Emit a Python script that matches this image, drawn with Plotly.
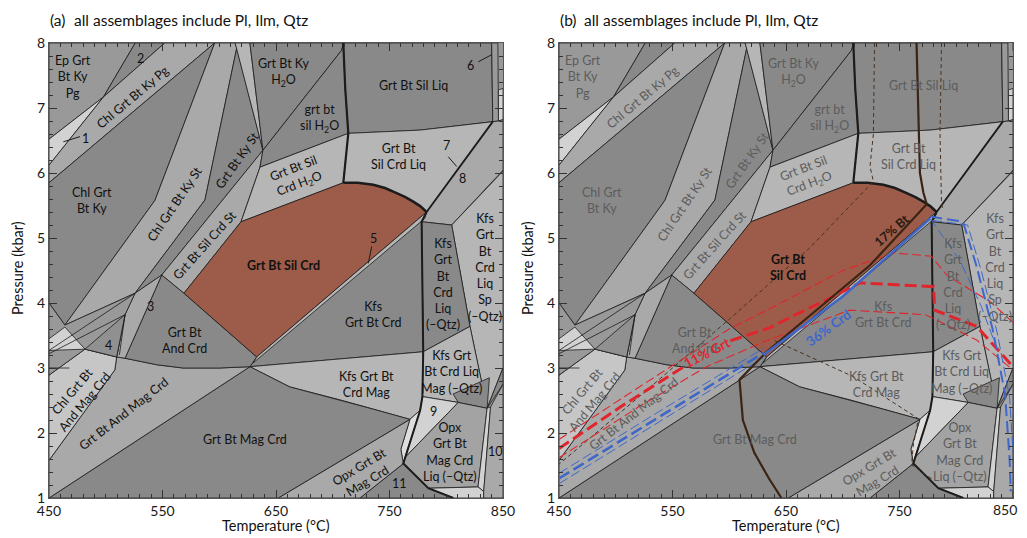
import plotly.graph_objects as go

# ---------------- field polygons: vertices as (T [degC], P [kbar]) ----------------
ep_grt_bt_ky_pg = [(450, 8.0), (526, 8.0), (498, 7.17), (450, 6.52)]
field_2 = [(526, 8.0), (552, 8.0), (498, 7.17)]
field_1 = [(450, 6.52), (498, 7.17), (450, 6.12)]
chl_grt_bt_ky_pg = [(450, 6.12), (498, 7.17), (552, 8.0), (596, 8.0), (450, 5.85)]
chl_grt_bt_ky = [(450, 5.85), (596, 8.0), (543.4, 5.58), (464, 3.66), (450, 4.0)]
chl_grt_bt_ky_st = [(596, 8.0), (614, 8.0), (615.4, 7.92), (587.4, 5.585), (525.8, 4.15), (464, 3.66), (543.4, 5.58)]
grt_bt_ky_st = [(615.4, 7.92), (638.5, 6.35), (549.3, 4.43), (525.8, 4.15), (587.4, 5.585)]
ky_sliver = [(614, 8.0), (627, 8.0), (638.5, 6.35), (615.4, 7.92)]
grt_bt_sil_crd_st = [(549.3, 4.43), (638.5, 6.35), (635.9, 6.09), (619.2, 5.25), (568.9, 4.15)]
grt_bt_ky_h2o = [(627, 8.0), (709.3, 8.0), (707.9, 7.89), (638.5, 6.35)]
grt_bt_sil_h2o = [(638.5, 6.35), (707.9, 7.89), (709.3, 8.0), (711, 7.3), (713.7, 6.61), (635.9, 6.09)]
grt_bt_sil_crd_h2o = [(635.9, 6.09), (713.7, 6.61), (709.3, 5.85), (619.2, 5.25)]
grt_bt_sil_crd = [(568.9, 4.15), (619.2, 5.25), (709.3, 5.85), (722, 5.85), (735.7, 5.82), (746, 5.77),
                  (756.3, 5.69), (764, 5.63), (770.9, 5.56), (777, 5.49), (782.7, 5.40), (633, 3.17)]
field_5 = [(633, 3.17), (782.7, 5.40), (781, 5.30), (630, 3.08)]
grt_bt_sil_liq = [(709.3, 8.0), (840, 8.0), (841, 6.79), (777, 6.66), (713.7, 6.61), (711, 7.3)]
field_6 = [(840, 8.0), (845.5, 8.0), (846, 6.8), (841, 6.79)]
far_right_light = [(846, 7.28), (850, 7.3), (850, 6.82), (846, 6.8)]
grt_bt_sil_crd_liq = [(713.7, 6.61), (777, 6.66), (841, 6.79), (782.7, 5.40), (777, 5.49), (770.9, 5.56),
                      (764, 5.63), (756.3, 5.69), (746, 5.77), (735.7, 5.82), (722, 5.85), (709.3, 5.85)]
field_8 = [(782.7, 5.40), (841, 6.79), (846, 6.8), (850, 6.82), (850, 6.05), (848.8, 6.02), (804.8, 5.2), (778.3, 5.25)]
kfs_liq_sp = [(804.8, 5.2), (848.8, 6.02), (850, 6.03), (850, 3.0), (836, 2.38), (820.9, 3.64)]
kfs_liq = [(778.3, 5.25), (804.8, 5.2), (820.9, 3.64), (779.7, 3.25)]
kfs_grt_bt_crd = [(627, 3.02), (633, 3.17), (782.7, 5.40), (778.3, 5.25), (779.7, 3.25)]
kfs_grt_bt_crd_mag = [(627, 3.02), (779.7, 3.25), (779, 2.56), (777, 2.35), (768, 2.21), (735, 2.37), (706.4, 2.51), (662, 2.71)]
kfs_liq_mag = [(779.7, 3.25), (820.9, 3.64), (836, 2.38), (810.6, 2.47), (779, 2.56)]
liq_mag_dark = [(806, 2.6), (838, 2.85), (836, 2.38), (810.6, 2.47)]
right_dark_tri = [(850, 3.0), (836, 2.38), (850, 2.75)]
field_9 = [(779, 2.56), (810.6, 2.47), (763.5, 1.62), (777, 2.35)]
sliver_9 = [(768, 2.21), (777, 2.35), (763.5, 1.62), (762.2, 1.53), (760, 1.75)]
opx_liq = [(810.6, 2.47), (836, 2.38), (828, 1.17), (784.2, 1.15), (762.2, 1.53), (763.5, 1.62)]
opx_right_sliver = [(836, 2.38), (839, 2.4), (833, 1.1), (828, 1.17)]
bottom_light = [(784.2, 1.15), (828, 1.17), (833, 1.1), (833, 1.0), (806.2, 1.0)]
field_10 = [(839, 2.4), (850, 2.75), (850, 1.0), (833, 1.0), (833, 1.1)]
field_11 = [(724, 1.0), (762.2, 1.53), (784.2, 1.15), (806.2, 1.0)]
opx_grt_bt_mag_crd = [(652, 1.0), (768, 2.21), (760, 1.75), (762.2, 1.53), (724, 1.0)]
grt_bt_mag_crd = [(450, 1.0), (627, 3.02), (662, 2.71), (706.4, 2.51), (735, 2.37), (768, 2.21), (652, 1.0)]
grt_bt_and_mag_crd = [(450, 1.58), (508, 2.97), (509.6, 3.17), (517, 3.15), (545, 3.05), (568, 3.0),
                      (600, 3.0), (627, 3.02), (450, 1.0)]
chl_grt_bt_and_mag_crd = [(450, 2.89), (481.7, 3.29), (509.6, 3.17), (508, 2.97), (450, 1.58)]
grt_bt_and_crd = [(549.3, 4.43), (568.9, 4.15), (633, 3.17), (627, 3.02), (600, 3.0), (568, 3.0), (545, 3.05), (517, 3.15)]
field_3 = [(525.8, 4.15), (549.3, 4.43), (517, 3.15), (509.6, 3.17), (517, 3.82)]
field_4_area = [(450, 4.0), (464, 3.66), (525.8, 4.15), (517, 3.82), (509.6, 3.17), (481.7, 3.29), (450, 2.89)]
left_light = [(450, 3.45), (464, 3.63), (481.7, 3.29), (450, 3.27)]
field_4_dark = [(481.7, 3.29), (517, 3.82), (509.6, 3.17)]

# extra thin boundaries
thin_a = [(450, 3.27), (525.8, 4.15)]
thin_b = [(450, 3.22), (517, 3.82)]
thin_c = [(517, 3.82), (512, 3.2)]
thin_d = [(450, 3.0), (468, 3.0)]

# heavy boundaries
heavy_1 = [(709.3, 8.0), (711, 7.3), (713.7, 6.61), (709.3, 5.85)]
heavy_arc = [(709.3, 5.85), (722, 5.85), (735.7, 5.82), (746, 5.77), (756.3, 5.69), (764, 5.63),
             (770.9, 5.56), (777, 5.49), (782.7, 5.40)]
heavy_7 = [(782.7, 5.40), (841, 6.79)]
heavy_2 = [(782.7, 5.40), (778.3, 5.25), (779.7, 3.25), (779, 2.56), (777, 2.35), (762.2, 1.53),
           (784.2, 1.15), (806.2, 1.0)]

# leader lines for numbered fields (panel a)
lead_1 = [(462.6, 6.48), (477.3, 6.56)]
lead_5 = [(734.3, 4.87), (731.3, 4.61)]
lead_6 = [(828.2, 7.71), (840, 7.82)]
lead_7 = [(801.8, 6.25), (809.2, 6.1)]

# ---------------- panel (b) isopleths ----------------
red_thick_a = [(450, 1.76), (504, 2.40), (560, 3.02)]
red_thick_b = [(601, 3.42), (636, 3.62), (656, 3.80), (686, 4.05), (715, 4.31), (780, 4.25),
               (781, 3.89), (818, 3.64), (850, 3.02)]
red_thin_1 = [(450, 1.90), (520, 2.70), (600, 3.60), (640, 3.95), (700, 4.50), (745, 4.77), (778, 4.72),
              (792, 4.42), (830, 4.02), (850, 3.70)]
red_thin_2 = [(450, 1.62), (520, 2.40), (580, 3.02), (630, 3.40), (706, 3.89), (773, 3.82), (818, 3.43), (850, 2.97)]
blue_left_mid = [(450, 1.30), (540, 2.27), (630, 3.23)]
blue_left_up = [(450, 1.38), (540, 2.35), (630, 3.30)]
blue_left_lo = [(450, 1.22), (540, 2.19), (630, 3.16)]
blue_edge = [(630, 3.20), (700, 4.10), (777, 5.30)]
blue_right_a = [(777, 5.33), (806, 5.25), (818, 4.56), (832, 3.6), (843, 2.6), (847, 1.6), (848, 1.1)]
blue_right_b = [(779, 5.27), (810, 5.2), (822, 4.5), (836, 3.55), (847, 2.55), (850, 1.7)]
blue_thin = [(777, 5.30), (803, 4.66), (822, 3.95), (838, 3.2)]
bt_17 = [(765, 8.0), (766.6, 6.71), (768, 6.0), (771, 5.7), (774, 5.52), (724, 4.58), (633, 3.25),
         (609, 2.82), (612, 2.2), (622, 1.7), (635, 1.3), (646, 1.0)]
bt_dash_1 = [(728, 8.0), (727, 6.6), (724, 6.1), (727, 5.87), (671, 4.85), (600, 3.75), (520, 2.55), (450, 1.52)]
bt_dash_2 = [(787, 8.0), (785.7, 6.6), (787, 5.53), (788, 5.45)]
bt_dash_3 = [(640, 3.42), (709, 2.87), (766.6, 2.22), (762, 1.79), (760.7, 1.51), (779.7, 1.28)]

# axis ticks
x_tick_vals = [450, 550, 650, 750, 850]
x_tick_text = ['450', '550', '650', '750', '850']
y_tick_vals = [1, 2, 3, 4, 5, 6, 7, 8]

# ---------------- styling ----------------
DARK = '#898989'
MED = '#999999'
LM = '#a9a9a9'
LIGHT = '#b6b6b6'
VLIGHT = '#d2d2d2'
BROWN = '#9d5c49'
EDGE = '#1c1c1c'
FONT = 'Lato'

fields = [
    (ep_grt_bt_ky_pg, MED), (field_2, DARK), (field_1, VLIGHT), (chl_grt_bt_ky_pg, LM),
    (chl_grt_bt_ky, DARK), (chl_grt_bt_ky_st, LM), (grt_bt_ky_st, DARK), (ky_sliver, LIGHT),
    (grt_bt_sil_crd_st, LM), (grt_bt_ky_h2o, DARK), (grt_bt_sil_h2o, DARK), (grt_bt_sil_crd_h2o, LIGHT),
    (grt_bt_sil_liq, DARK), (field_6, MED), (far_right_light, VLIGHT), (grt_bt_sil_crd_liq, LIGHT),
    (field_8, LM), (kfs_liq_sp, LIGHT), (kfs_liq, DARK), (kfs_grt_bt_crd, DARK),
    (kfs_grt_bt_crd_mag, LIGHT), (kfs_liq_mag, LIGHT), (liq_mag_dark, DARK), (right_dark_tri, DARK),
    (field_9, VLIGHT), (sliver_9, '#dedede'), (opx_liq, '#a3a3a3'), (opx_right_sliver, VLIGHT),
    (bottom_light, VLIGHT), (field_10, LM), (field_11, DARK), (opx_grt_bt_mag_crd, LM),
    (grt_bt_mag_crd, DARK), (grt_bt_and_mag_crd, LM), (chl_grt_bt_and_mag_crd, '#c6c6c6'),
    (grt_bt_and_crd, DARK), (field_3, LM), (field_4_area, MED), (left_light, VLIGHT),
    (field_4_dark, '#909090'), (grt_bt_sil_crd, BROWN), (field_5, LIGHT),
]

labels_common = [
    ("Ep Grt<br>Bt Ky<br>Pg", 471.4, 7.47, 0),
    ("Chl Grt Bt Ky Pg", 524.3, 7.17, -40),
    ("Chl Grt<br>Bt Ky", 487.6, 5.58, 0),
    ("Chl Grt Bt Ky St", 561, 5.53, -56),
    ("Grt Bt Ky St", 615.4, 6.2, -55),
    ("Grt Bt Sil Crd St", 586.6, 4.89, -48),
    ("Grt Bt Ky<br>H<sub>2</sub>O", 656.4, 7.54, 0),
    ("grt bt<br>sil H<sub>2</sub>O", 688, 6.84, 0),
    ("Grt Bt Sil Liq", 771, 7.34, 0),
    ("Grt Bt<br>Sil Crd Liq", 757.8, 6.25, 0),
    ("Grt Bt Sil<br>Crd H<sub>2</sub>O", 668.2, 5.94, -21),
    ("Kfs<br>Grt<br>Bt<br>Crd<br>Liq<br>Sp<br>(–Qtz)", 834, 4.55, 0),
    ("Kfs<br>Grt<br>Bt<br>Crd<br>Liq<br>(–Qtz)", 797.4, 4.29, 0),
    ("Kfs<br>Grt Bt Crd", 735.7, 3.83, 0),
    ("Kfs Grt Bt<br>Crd Mag", 730, 2.75, 0),
    ("Kfs Grt<br>Bt Crd Liq<br>Mag (–Qtz)", 804.8, 2.94, 0),
    ("Opx<br>Grt Bt<br>Mag Crd<br>Liq (–Qtz)", 803.3, 1.71, 0),
    ("Opx Grt Bt<br>Mag Crd", 727, 1.38, -31),
    ("Grt Bt Mag Crd", 622.7, 1.9, 0),
    ("Grt Bt<br>And Crd", 569.8, 3.43, 0),
    ("Chl Grt Bt<br>And Mag Crd", 475.8, 2.56, -50),
    ("Grt Bt And Mag Crd", 516, 2.3, -38),
]
labels_numbers = [
    ("1", 482, 6.53), ("2", 530.2, 7.76), ("3", 539.6, 3.94), ("4", 502.3, 3.35), ("5", 735.7, 5.0),
    ("6", 821, 7.66), ("7", 800.4, 6.43), ("8", 814.4, 5.92), ("9", 788.6, 2.33), ("10", 843, 1.71),
    ("11", 759, 1.23),
]

# ---------------- figure geometry ----------------
# the page body adds an 8 px margin; plot-area corner sits at window pixel (49, 43)
W, H = 1019, 530
ML, MT = 41, 35
PW, PH = 964, 455
MR, MB = W - ML - PW, H - MT - PH
ORIGIN_X, ORIGIN_Y = 49, 43
VISIBLE_RIGHT = 1019   # rightmost window pixel that is drawn


def px_x(px):
    return (px - ORIGIN_X) / PW


def px_y(py):
    return 1 - (py - ORIGIN_Y) / PH


fig = go.Figure()


def add_line(pts, xa, ya, color=EDGE, width=0.8, dash=None):
    fig.add_trace(go.Scatter(x=[p[0] for p in pts], y=[p[1] for p in pts], mode='lines',
                             line=dict(color=color, width=width, dash=dash),
                             hoverinfo='skip', showlegend=False, xaxis=xa, yaxis=ya))


def draw_base(xa, ya):
    for poly, col in fields:
        xs = [p[0] for p in poly] + [poly[0][0]]
        ys = [p[1] for p in poly] + [poly[0][1]]
        fig.add_trace(go.Scatter(x=xs, y=ys, mode='lines', fill='toself', fillcolor=col,
                                 line=dict(color=EDGE, width=0.8), hoverinfo='skip',
                                 showlegend=False, xaxis=xa, yaxis=ya))
    for ln in (thin_a, thin_b, thin_c, thin_d):
        add_line(ln, xa, ya)
    add_line(heavy_1, xa, ya, width=2.2)
    add_line(heavy_arc, xa, ya, width=2.6)
    add_line(heavy_7, xa, ya, width=1.8)
    add_line(heavy_2, xa, ya, width=2.0)


draw_base('x', 'y')
for ln in (lead_1, lead_5, lead_6, lead_7):
    add_line(ln, 'x', 'y', width=1.0)

draw_base('x2', 'y2')
RED = '#e0262c'
BLUE = '#3f67c9'
BTC = '#3b2414'
add_line(bt_dash_1, 'x2', 'y2', color='#4a3320', width=1.0, dash='4px,3px')
add_line(bt_dash_2, 'x2', 'y2', color='#4a3320', width=1.0, dash='4px,3px')
add_line(bt_dash_3, 'x2', 'y2', color='#4a3320', width=1.0, dash='4px,3px')
add_line(red_thin_1, 'x2', 'y2', color=RED, width=1.1, dash='9px,4px')
add_line(red_thin_2, 'x2', 'y2', color=RED, width=1.1, dash='9px,4px')
add_line(red_thick_a, 'x2', 'y2', color=RED, width=3.0, dash='12px,5px')
add_line(red_thick_b, 'x2', 'y2', color=RED, width=3.0, dash='12px,5px')
add_line(blue_left_up, 'x2', 'y2', color=BLUE, width=1.0, dash='10px,4px')
add_line(blue_left_lo, 'x2', 'y2', color=BLUE, width=1.0, dash='10px,4px')
add_line(blue_left_mid, 'x2', 'y2', color=BLUE, width=2.6, dash='12px,5px')
add_line(blue_right_a, 'x2', 'y2', color=BLUE, width=2.0, dash='12px,5px')
add_line(blue_right_b, 'x2', 'y2', color=BLUE, width=1.0, dash='10px,4px')
add_line(blue_thin, 'x2', 'y2', color=BLUE, width=1.0, dash='10px,4px')
add_line(bt_17, 'x2', 'y2', color=BTC, width=2.2)
add_line(blue_edge, 'x2', 'y2', color=BLUE, width=2.4)

# ---------------- annotations ----------------
LSIZE = 12.5
ann = []
for txt, t, p, ang in labels_common:
    ann.append(dict(x=t, y=p, xref='x', yref='y', text=txt, showarrow=False, textangle=ang,
                    font=dict(family=FONT, size=LSIZE, color='#111111')))
    ann.append(dict(x=t, y=p, xref='x2', yref='y2', text=txt, showarrow=False, textangle=ang,
                    font=dict(family=FONT, size=LSIZE, color='#5c5c5c')))
for txt, t, p in labels_numbers:
    ann.append(dict(x=t, y=p, xref='x', yref='y', text=txt, showarrow=False,
                    font=dict(family=FONT, size=LSIZE, color='#111111')))
ann.append(dict(x=656.4, y=4.57, xref='x', yref='y', text="<b>Grt Bt Sil Crd</b>", showarrow=False,
                font=dict(family=FONT, size=LSIZE, color='#111111')))
ann.append(dict(x=652, y=4.54, xref='x2', yref='y2', text="<b>Grt Bt<br>Sil Crd</b>", showarrow=False,
                font=dict(family=FONT, size=LSIZE, color='#111111')))
ann.append(dict(x=743, y=5.12, xref='x2', yref='y2', text="<b>17% Bt</b>", showarrow=False, textangle=-41,
                font=dict(family=FONT, size=12.5, color='#231a12')))
ann.append(dict(x=580, y=3.23, xref='x2', yref='y2', text="<b>11% Grt</b>", showarrow=False, textangle=-27,
                font=dict(family=FONT, size=13.5, color=RED)))
ann.append(dict(x=687.3, y=3.61, xref='x2', yref='y2', text="<b>36% Crd</b>", showarrow=False, textangle=-36,
                font=dict(family=FONT, size=13.5, color=BLUE)))

# last tick label of panel (b): right-aligned so that it stays inside the visible window
ann.append(dict(x=px_x(VISIBLE_RIGHT), y=px_y(510), xref='paper', yref='paper', xanchor='right',
                yanchor='middle', text=x_tick_text[-1], showarrow=False,
                font=dict(family=FONT, size=14, color='#1a1a1a')))

# titles and axis titles
for (tag, x0) in (("(a)", 48), ("(b)", 558)):
    ann.append(dict(x=px_x(x0), y=px_y(20), xref='paper', yref='paper', xanchor='left', yanchor='middle',
                    text=tag, showarrow=False, font=dict(family=FONT, size=15.5, color='#111111')))
    ann.append(dict(x=px_x(x0 + 24), y=px_y(20), xref='paper', yref='paper', xanchor='left', yanchor='middle',
                    text="all assemblages include Pl, Ilm, Qtz", showarrow=False,
                    font=dict(family=FONT, size=15.5, color='#111111')))
for xp in (17, 527):
    ann.append(dict(x=px_x(xp), y=px_y(268), xref='paper', yref='paper', xanchor='center', yanchor='middle',
                    text="Pressure (kbar)", textangle=-90, showarrow=False,
                    font=dict(family=FONT, size=14.5, color='#111111')))
for xp in (276, 786):
    ann.append(dict(x=px_x(xp), y=px_y(525), xref='paper', yref='paper', xanchor='center', yanchor='middle',
                    text="Temperature (°C)", showarrow=False,
                    font=dict(family=FONT, size=14.5, color='#111111')))

axis_style = dict(ticks='inside', ticklen=8, tickwidth=1, tickcolor='#333333', showgrid=False,
                  zeroline=False, showline=True, linecolor='#555555', linewidth=1, mirror='ticks',
                  ticklabeloverflow='allow', tickfont=dict(family=FONT, size=14, color='#1a1a1a'))
x_minor = dict(dtick=10, ticks='inside', ticklen=4, tickcolor='#333333', showgrid=False)
y_minor = dict(dtick=0.2, ticks='inside', ticklen=4, tickcolor='#333333', showgrid=False)

fig.update_layout(
    width=W, height=H, margin=dict(l=ML, r=MR, t=MT, b=MB, autoexpand=False),
    paper_bgcolor='white', plot_bgcolor=MED,
    xaxis=dict(domain=[0, 454 / PW], anchor='y', range=[450, 850], tickvals=x_tick_vals,
               ticktext=x_tick_text, minor=x_minor, **axis_style),
    yaxis=dict(domain=[0, 1], anchor='x', range=[1, 8], tickvals=y_tick_vals, minor=y_minor, **axis_style),
    xaxis2=dict(domain=[510 / PW, 1], anchor='y2', range=[450, 850], tickvals=x_tick_vals[:-1],
                ticktext=x_tick_text[:-1], minor=x_minor, **axis_style),
    yaxis2=dict(domain=[0, 1], anchor='x2', range=[1, 8], tickvals=y_tick_vals, minor=y_minor, **axis_style),
    annotations=ann, showlegend=False,
)
# keep the major tick mark at 850 on panel (b) even though its label is an annotation
fig.add_shape(type='line', xref='x2', yref='y2 domain', x0=850, x1=850, y0=0, y1=8 / PH,
              line=dict(color='#333333', width=1))
fig.add_shape(type='line', xref='x2', yref='y2 domain', x0=850, x1=850, y0=1, y1=1 - 8 / PH,
              line=dict(color='#333333', width=1))

fig.write_html("out.html")
